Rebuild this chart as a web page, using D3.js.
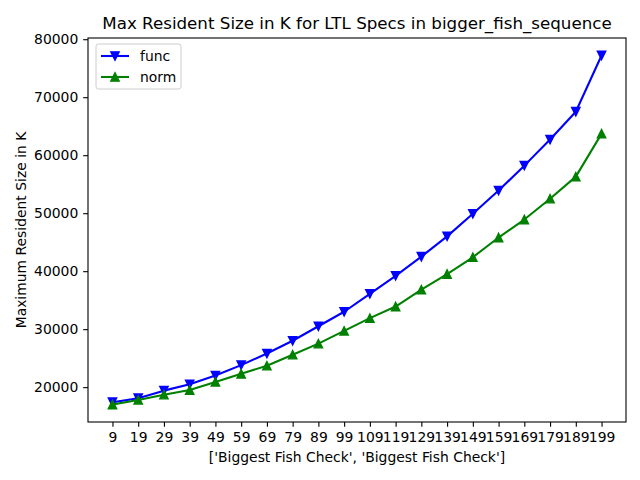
<!DOCTYPE html>
<html>
<head>
<meta charset="utf-8">
<script src="https://cdn.jsdelivr.net/npm/d3@7"></script>
<style>
	body { margin: 0; background: #fff; }
	svg text { font-family: "DejaVu Sans", sans-serif; fill: #000; }
</style>
</head>
<body>
<svg id="chart" width="640" height="480"></svg>
<script>
// chart data
var categories = [9, 19, 29, 39, 49, 59, 69, 79, 89, 99, 109, 119, 129, 139, 149, 159, 169, 179, 189, 199];
var funcValues = [17400, 18100, 19400, 20500, 22000, 23800, 25800, 28000, 30500, 33000,
				  36100, 39200, 42500, 46000, 49900, 53900, 58200, 62700, 67500, 77200];
var normValues = [17000, 17800, 18700, 19500, 20900, 22300, 23700, 25600, 27500, 29700,
				  31900, 33900, 36800, 39500, 42400, 45800, 48900, 52500, 56300, 63700];
var yTicks = [20000, 30000, 40000, 50000, 60000, 70000, 80000];
var seriesNames = ["func", "norm"];
var seriesColors = ["#0000ff", "#008000"];

var titleText = "Max Resident Size in K for LTL Specs in bigger_fish_sequence";
var xLabelText = "['Biggest Fish Check', 'Biggest Fish Check']";
var yLabelText = "Maximum Resident Size in K";

var svg = d3.select("#chart");
var box = {left: 88, top: 38, right: 626, bottom: 422};

// matplotlib style 5% margins
var xMin = d3.min(categories), xMax = d3.max(categories);
var xPad = (xMax - xMin) * 0.05;
var allVals = funcValues.concat(normValues);
var yMin = d3.min(allVals), yMax = d3.max(allVals);
var yPad = (yMax - yMin) * 0.05;

var x = d3.scaleLinear()
	.domain([xMin - xPad, xMax + xPad])
	.range([box.left, box.right]);
var y = d3.scaleLinear()
	.domain([yMin - yPad, yMax + yPad])
	.range([box.bottom, box.top]);

var tickLen = 4.86;
var fontSize = 13.9;

// x axis
var xAxis = d3.axisBottom(x)
	.tickValues(categories)
	.tickFormat(d3.format("d"))
	.tickSizeInner(tickLen)
	.tickSizeOuter(0)
	.tickPadding(4.86);
var gx = svg.append("g")
	.attr("transform", "translate(0," + box.bottom + ")")
	.call(xAxis);
gx.select(".domain").remove();
gx.selectAll("line").attr("stroke", "#000").attr("stroke-width", 1.1);
gx.selectAll("text").style("font-size", fontSize + "px").attr("font-family", null);

// y axis
var yAxis = d3.axisLeft(y)
	.tickValues(yTicks)
	.tickFormat(d3.format("d"))
	.tickSizeInner(tickLen)
	.tickSizeOuter(0)
	.tickPadding(4.86);
var gy = svg.append("g")
	.attr("transform", "translate(" + box.left + ",0)")
	.call(yAxis);
gy.select(".domain").remove();
gy.selectAll("line").attr("stroke", "#000").attr("stroke-width", 1.1);
gy.selectAll("text").style("font-size", fontSize + "px").attr("font-family", null);

// lines
var line = d3.line()
	.x(function(d, i) { return x(categories[i]); })
	.y(function(d) { return y(d); });

var triSize = 8.33;
function triangle(cx, cy, down) {
	var h = triSize / 2;
	if (down) {
		return [[cx - h, cy - h], [cx + h, cy - h], [cx, cy + h]].join(" ");
	}
	return [[cx - h, cy + h], [cx + h, cy + h], [cx, cy - h]].join(" ");
}

var seriesData = [funcValues, normValues];
seriesData.forEach(function(vals, s) {
	svg.append("path")
		.datum(vals)
		.attr("d", line)
		.attr("fill", "none")
		.attr("stroke", seriesColors[s])
		.attr("stroke-width", 2.08)
		.attr("stroke-linejoin", "round")
		.attr("stroke-linecap", "square");
	svg.append("g").selectAll("polygon")
		.data(vals)
		.enter()
		.append("polygon")
		.attr("points", function(d, i) { return triangle(x(categories[i]), y(d), s === 0); })
		.attr("fill", seriesColors[s])
		.attr("stroke", seriesColors[s])
		.attr("stroke-width", 1.39)
		.attr("stroke-linejoin", "miter");
});

// frame
svg.append("rect")
	.attr("x", box.left)
	.attr("y", box.top)
	.attr("width", box.right - box.left)
	.attr("height", box.bottom - box.top)
	.attr("fill", "none")
	.attr("stroke", "#000")
	.attr("stroke-width", 1.1);

// title and labels
svg.append("text")
	.attr("x", (box.left + box.right) / 2)
	.attr("y", 29)
	.attr("text-anchor", "middle")
	.style("font-size", "16.7px")
	.text(titleText);

svg.append("text")
	.attr("x", (box.left + box.right) / 2)
	.attr("y", 462)
	.attr("text-anchor", "middle")
	.style("font-size", fontSize + "px")
	.text(xLabelText);

svg.append("text")
	.attr("transform", "translate(26," + ((box.top + box.bottom) / 2) + ") rotate(-90)")
	.attr("text-anchor", "middle")
	.style("font-size", fontSize + "px")
	.text(yLabelText);

// legend
var legend = svg.append("g").attr("transform", "translate(96,44)");
legend.append("rect")
	.attr("width", 85)
	.attr("height", 45)
	.attr("rx", 2.5)
	.attr("fill", "#fff")
	.attr("fill-opacity", 0.8)
	.attr("stroke", "#ccc")
	.attr("stroke-width", 1);
seriesNames.forEach(function(name, s) {
	var ly = 12 + s * 21;
	legend.append("line")
		.attr("x1", 5).attr("x2", 33)
		.attr("y1", ly).attr("y2", ly)
		.attr("stroke", seriesColors[s])
		.attr("stroke-width", 2.08);
	legend.append("polygon")
		.attr("points", triangle(19, ly, s === 0))
		.attr("fill", seriesColors[s])
		.attr("stroke", seriesColors[s])
		.attr("stroke-width", 1.39);
	legend.append("text")
		.attr("x", 44)
		.attr("y", ly + 5)
		.style("font-size", fontSize + "px")
		.text(name);
});
</script>
</body>
</html>
